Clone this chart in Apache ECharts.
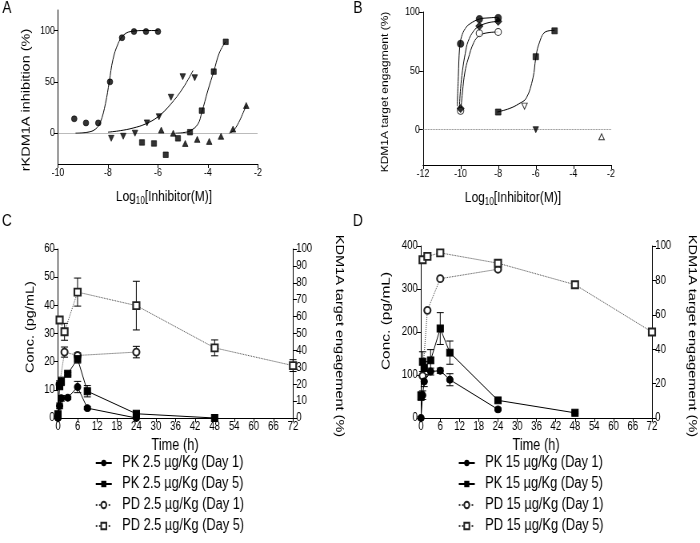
<!DOCTYPE html>
<html><head><meta charset="utf-8">
<script src="https://cdn.jsdelivr.net/npm/echarts@6/dist/echarts.min.js"></script>
<style>
html,body{margin:0;padding:0;background:#fff;overflow:hidden;width:700px;height:543px}
#c{width:875px;height:543px;transform:scaleX(0.8);transform-origin:0 0}
</style>
</head><body><div id="c"></div>
<script>
// ---------- Panel A data ----------
const A_circle_x = [-9.35,-8.88,-8.39,-7.92,-7.44,-6.96,-6.48,-6.0];
const A_circle_y = [14,10,10,50,93,99,99,99];
const A_invtri_x = [-7.87,-7.39,-6.92,-6.44,-5.96,-5.48,-5.01,-4.53];
const A_invtri_y = [-5,-3,0,10,16,35,55,54];
const A_square_x = [-6.64,-6.16,-5.69,-5.2,-4.72,-4.25,-3.77,-3.29];
const A_square_y = [-9,-10,-21,-5,1,22,60,89];
const A_tri_x = [-5.87,-5.39,-4.91,-4.43,-3.95,-3.48,-3.0,-2.47];
const A_tri_y = [3,0,-10,-6,-8,-3,4,27];
// fitted curves
const A_fit_circle = [[-9.3,0],[-8.8,1],[-8.5,4],[-8.3,11],[-8.1,29],[-7.95,50],[-7.8,72],[-7.6,87],[-7.4,95],[-7.1,99],[-6.5,100],[-6.0,100]];
const A_fit_invtri = [[-8.0,1],[-7.5,2.5],[-7.0,5],[-6.5,9],[-6.0,16],[-5.5,28],[-5.0,44],[-4.6,61]];
const A_fit_square = [[-5.3,0],[-5.0,0.5],[-4.7,2.5],[-4.4,9],[-4.25,20],[-4.0,42],[-3.77,60],[-3.55,78],[-3.3,89]];
const A_fit_tri = [[-3.15,0],[-3.0,2],[-2.85,7],[-2.7,14],[-2.47,27]];

// ---------- Panel B data ----------
const B_circle_x = [-10,-9,-8], B_circle_y = [73,94,95];
const B_diamond_x = [-10,-9,-8], B_diamond_y = [18,88,92];
const B_open_x = [-10,-9,-8], B_open_y = [16,82,83];
const B_square_x = [-8,-6,-5], B_square_y = [15,62,84];
const B_openinv_x = [-6.6], B_openinv_y = [20];
const B_inv_x = [-6], B_inv_y = [0];
const B_opentri_x = [-2.5], B_opentri_y = [-6];
const B_fit_circle = [[-10.18,20],[-10.12,45],[-10.05,70],[-9.95,79],[-9.75,86],[-9.5,90],[-9.0,94],[-8.5,95],[-8.0,95.5]];
const B_fit_diamond = [[-10.07,18],[-10.0,35],[-9.9,50],[-9.75,65],[-9.6,75],[-9.3,84],[-9.0,88],[-8.5,91],[-8.0,92]];
const B_fit_open = [[-10.0,14],[-9.9,32],[-9.77,49],[-9.6,60],[-9.3,74],[-9.0,80],[-8.5,82.5],[-8.0,83]];
const B_fit_square = [[-8.05,15],[-7.4,18],[-6.9,22],[-6.5,27],[-6.15,44],[-6.0,61],[-5.85,72],[-5.5,83],[-5.0,84.5]];

// ---------- Panel C data ----------
const C_pk1_t = [0,0.5,1,3,6,9,24];
const C_pk1_v = [0,4.3,7,7.2,11,3.5,0];
const C_pk1_sd = [0,1,1,0.5,2,0.5,0];
const C_pk5_t = [0,0.5,1,3,6,9,24,48];
const C_pk5_v = [1.3,11.3,13,15.7,21,9.5,1.5,0];
const C_pk5_sd = [0.5,1,1.5,0.5,1.5,2,0.5,0];
const C_pd1_t = [0.5,2,6,24];
const C_pd1_v = [20,39,37,39];
const C_pd1_sd = [2,3,1.5,3.4];
const C_pd5_t = [0.5,2,6,24,48,72];
const C_pd5_v = [58,51,74.5,66.5,41.5,31];
const C_pd5_sd = [2,5,8.3,14.4,4.7,3.5];

// ---------- Panel D data ----------
const D_pk1_t = [0,0.5,1,3,6,9,24];
const D_pk1_v = [0,53,85,108,110,89,20];
const D_pk1_sd = [0,10,12,8,6,14,3];
const D_pk5_t = [0,0.5,1,3,6,9,24,48];
const D_pk5_v = [51,131,116,134,208,152,41,12];
const D_pk5_sd = [10,23,15,25,37,27,5,2];
const D_pd1_t = [0.5,2,6,24];
const D_pd1_v = [24.5,62.6,81,86.5];
const D_pd5_t = [0.5,2,6,24,48,72];
const D_pd5_v = [92,94,96,90,77.5,50];

// ---------- tick labels ----------
const A_yticks = [0,50,100];
const B_yticks = [0,50,100];

const names = {
  C: ['PK 2.5 µg/Kg (Day 1)','PK 2.5 µg/Kg (Day 5)','PD 2.5 µg/Kg (Day 1)','PD 2.5 µg/Kg (Day 5)'],
  D: ['PK 15 µg/Kg (Day 1)','PK 15 µg/Kg (Day 5)','PD 15 µg/Kg (Day 1)','PD 15 µg/Kg (Day 5)']
};

// the reference figure is horizontally compressed; the chart is laid out 1.25x wider and squeezed by CSS
const K = 1.25;
const FN = "'Liberation Sans',Arial,sans-serif";
const zip = (xs, ys) => xs.map((x,i)=>[x, ys[i]]);
const zip3 = (xs, ys, es) => xs.map((x,i)=>[x, ys[i], es[i]]);

const axLine = {show:true, onZero:false, lineStyle:{color:'#000', width:1}};
const axTick = {show:true, length:4*K, lineStyle:{color:'#000', width:1}};
const lbl = (fs) => ({color:'#000', fontFamily:FN, fontSize:fs, margin:3});

function xAx(grid, min, max, interval, fs){
  return {type:'value', gridIndex:grid, min, max, interval, position:'bottom',
    axisLine:axLine, axisTick:Object.assign({}, axTick, {length:4}), splitLine:{show:false},
    axisLabel:Object.assign(lbl(fs), {interval:0, hideOverlap:false, showMinLabel:true, showMaxLabel:true})};
}
function yAx(grid, min, max, interval, fs, pos, custom){
  const a = {type:'value', gridIndex:grid, min, max, position:pos||'left',
    axisLine:axLine, axisTick:Object.assign({}, axTick), splitLine:{show:false},
    axisLabel:Object.assign(lbl(fs), {margin:4, showMinLabel:true, showMaxLabel:true})};
  if (custom) { a.axisLabel.customValues = custom; a.axisTick.customValues = custom; }
  else a.interval = interval;
  return a;
}

function scatter(xi, yi, data, symbol, size, filled, rotate){
  return {type:'scatter', xAxisIndex:xi, yAxisIndex:yi, data, symbol, symbolSize:[size*1.15, size],
    symbolRotate: rotate||0, z:5,
    itemStyle: filled ? {color:'#000', borderColor:'#000', borderWidth:0.8} : {color:'#fff', borderColor:'#000', borderWidth:1}};
}
function fit(xi, yi, data){
  return {type:'line', xAxisIndex:xi, yAxisIndex:yi, data, smooth:0.4, showSymbol:false, symbol:'none',
    lineStyle:{color:'#000', width:1}, z:3, silent:true};
}
function zeroLine(xi, yi){
  return {type:'line', xAxisIndex:xi, yAxisIndex:yi, data:[], silent:true,
    markLine:{silent:true, symbol:'none', label:{show:false}, animation:false,
      lineStyle:{type:'dotted', color:'#777', width:1}, data:[{yAxis:0}]}};
}
function pkLine(name, xi, yi, data, symbol){
  return {name, type:'line', xAxisIndex:xi, yAxisIndex:yi, data, symbol, symbolSize:[8,7], showSymbol:true,
    itemStyle:{color:'#000', borderColor:'#000'}, lineStyle:{color:'#000', width:1, type:'solid'}, z:4};
}
function pdLine(name, xi, yi, data, symbol){
  return {name, type:'line', xAxisIndex:xi, yAxisIndex:yi, data, symbol, symbolSize:[8,7], showSymbol:true,
    itemStyle:{color:'#222', borderColor:'#222', borderWidth:1}, lineStyle:{color:'#444', width:1, type:'dotted'}, z:4};
}
function errBars(xi, yi, data){
  return {type:'custom', xAxisIndex:xi, yAxisIndex:yi, data, z:2, silent:true,
    renderItem:(params, api)=>{
      const x = api.value(0), y = api.value(1), e = api.value(2);
      if (!e) return null;
      const t = api.coord([x, y+e]), b = api.coord([x, y-e]), w = 4.4;
      const st = {stroke:'#000', lineWidth:1};
      return {type:'group', children:[
        {type:'line', shape:{x1:t[0], y1:t[1], x2:b[0], y2:b[1]}, style:st},
        {type:'line', shape:{x1:t[0]-w, y1:t[1], x2:t[0]+w, y2:t[1]}, style:st},
        {type:'line', shape:{x1:b[0]-w, y1:b[1], x2:b[0]+w, y2:b[1]}, style:st}
      ]};
    }};
}
function txt(x, y, text, fs, rot, rich){
  const s = {text, fontSize:fs, fontFamily:FN, fill:'#000', align:'center', verticalAlign:'middle'};
  if (rich) s.rich = rich;
  return {type:'text', x:x*K, y, rotation:rot||0, style:s, z:10};
}
const logRich = {a:{fontSize:15, fontFamily:FN, fill:'#000'}, s:{fontSize:10, fontFamily:FN, fill:'#000', padding:[9,0,0,0]}};
const legText = {fontFamily:FN, fontSize:16, color:'#000', lineHeight:16, padding:[0,0,0,8]};

const option = {
  animation:false,
  backgroundColor:'#fff',
  grid:[
    {left:58*K, top:10, width:200*K, height:154},
    {left:423*K, top:12, width:188*K, height:153},
    {left:58*K, top:249, width:235*K, height:169},
    {left:421*K, top:246, width:231*K, height:172}
  ],
  xAxis:[
    xAx(0,-10,-2,2,11),
    xAx(1,-12,-2,2,11),
    xAx(2,0,72,6,12),
    xAx(3,0,72,6,12)
  ],
  yAxis:[
    yAx(0,-30,120,null,11,'left',A_yticks),
    yAx(1,-30,100,null,11,'left',B_yticks),
    yAx(2,0,60,10,12,'left'),
    yAx(2,0,100,10,12,'right'),
    yAx(3,0,400,100,12,'left'),
    yAx(3,0,100,20,12,'right')
  ],
  legend:[
    {data:names.C, orient:'vertical', left:91*K, top:450, itemWidth:20, itemHeight:8, itemGap:5,
      textStyle:legText, selectedMode:false},
    {data:names.D, orient:'vertical', left:454*K, top:450, itemWidth:20, itemHeight:8, itemGap:5,
      textStyle:legText, selectedMode:false}
  ],
  graphic:[
    txt(7,8,'A',17), txt(358,8,'B',17), txt(7,221,'C',17), txt(358,221,'D',17),
    txt(26,100,'rKDM1A inhibition (%)',14.5,Math.PI/2),
    txt(385,92,'KDM1A target engagment (%)',12,Math.PI/2),
    txt(164,197,'{a|Log}{s|10}{a|[Inhibitor(M)]}',15,0,logRich),
    txt(513,198,'{a|Log}{s|10}{a|[Inhibitor(M)]}',15,0,logRich),
    txt(30,327,'Conc. (pg/mL)',14.5,Math.PI/2),
    txt(339,336,'KDM1A target engagement (%)',14.5,-Math.PI/2),
    txt(386,321,'Conc. (pg/mL)',15.5,Math.PI/2),
    txt(692,336,'KDM1A target engagement (%)',14.5,-Math.PI/2),
    txt(175,446,'Time (h)',16),
    txt(536,446,'Time (h)',16)
  ],
  series:[
    // Panel A
    zeroLine(0,0),
    fit(0,0,A_fit_circle), fit(0,0,A_fit_invtri), fit(0,0,A_fit_square), fit(0,0,A_fit_tri),
    scatter(0,0,zip(A_circle_x,A_circle_y),'circle',6,true),
    scatter(0,0,zip(A_invtri_x,A_invtri_y),'triangle',6,true,180),
    scatter(0,0,zip(A_square_x,A_square_y),'rect',5.5,true),
    scatter(0,0,zip(A_tri_x,A_tri_y),'triangle',6,true),
    // Panel B
    zeroLine(1,1),
    fit(1,1,B_fit_circle), fit(1,1,B_fit_diamond), fit(1,1,B_fit_open), fit(1,1,B_fit_square),
    scatter(1,1,zip(B_open_x,B_open_y),'circle',7,false),
    scatter(1,1,zip(B_diamond_x,B_diamond_y),'diamond',8,true),
    scatter(1,1,zip(B_circle_x,B_circle_y),'circle',7,true),
    scatter(1,1,zip(B_square_x,B_square_y),'rect',6,true),
    scatter(1,1,zip(B_openinv_x,B_openinv_y),'triangle',6,false,180),
    scatter(1,1,zip(B_inv_x,B_inv_y),'triangle',6,true,180),
    scatter(1,1,zip(B_opentri_x,B_opentri_y),'triangle',6,false),
    // Panel C
    errBars(2,2,zip3(C_pk1_t,C_pk1_v,C_pk1_sd)),
    errBars(2,2,zip3(C_pk5_t,C_pk5_v,C_pk5_sd)),
    errBars(2,3,zip3(C_pd1_t,C_pd1_v,C_pd1_sd)),
    errBars(2,3,zip3(C_pd5_t,C_pd5_v,C_pd5_sd)),
    pdLine(names.C[2],2,3,zip(C_pd1_t,C_pd1_v),'emptyCircle'),
    pdLine(names.C[3],2,3,zip(C_pd5_t,C_pd5_v),'emptyRect'),
    pkLine(names.C[0],2,2,zip(C_pk1_t,C_pk1_v),'circle'),
    pkLine(names.C[1],2,2,zip(C_pk5_t,C_pk5_v),'rect'),
    // Panel D
    errBars(3,4,zip3(D_pk1_t,D_pk1_v,D_pk1_sd)),
    errBars(3,4,zip3(D_pk5_t,D_pk5_v,D_pk5_sd)),
    pdLine(names.D[2],3,5,zip(D_pd1_t,D_pd1_v),'emptyCircle'),
    pdLine(names.D[3],3,5,zip(D_pd5_t,D_pd5_v),'emptyRect'),
    pkLine(names.D[0],3,4,zip(D_pk1_t,D_pk1_v),'circle'),
    pkLine(names.D[1],3,4,zip(D_pk5_t,D_pk5_v),'rect')
  ]
};
const chart = echarts.init(document.getElementById('c'), null, {renderer:'canvas'});
chart.setOption(option);
</script>
</body></html>
